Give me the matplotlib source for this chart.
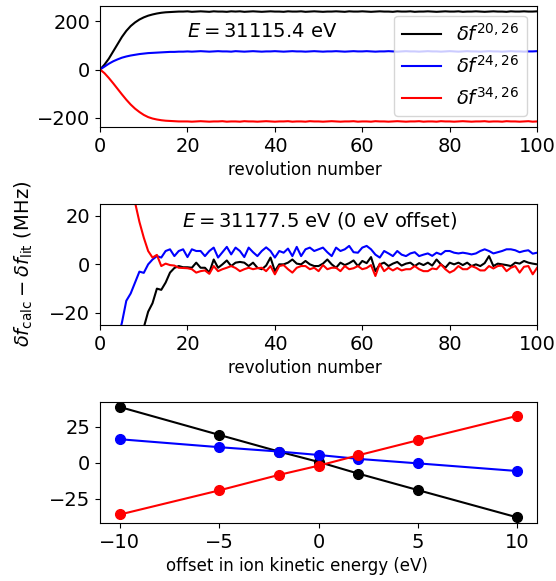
import numpy as np
import matplotlib
matplotlib.use("Agg")
import matplotlib.pyplot as plt

plt.rcParams['font.size'] = 14
plt.rcParams['axes.labelsize'] = 12

# ---------------- Panel 1 data (E = 31115.4 eV) ----------------
rev = list(range(0, 101))

black1 = [0, 20, 45, 75, 105, 135, 160, 180, 195, 207, 216, 223, 228, 232, 235, 237, 238, 239, 240, 240, 241,
          239, 240, 241, 240, 239, 241, 240, 240, 239, 241, 240, 241, 239, 240, 241, 240, 239, 240, 241, 240,
          240, 239, 241, 240, 240, 241, 239, 240, 241, 240, 239, 240, 240, 241, 240, 239, 241, 240, 240, 241,
          240, 239, 240, 241, 240, 240, 239, 241, 240, 240, 241, 239, 240, 240, 241, 240, 239, 240, 241, 240,
          240, 241, 239, 240, 240, 241, 240, 239, 240, 241, 240, 240, 239, 241, 240, 240, 241, 240, 240, 241]
blue1 = [0, 12, 24, 34, 42, 49, 54, 58, 61, 64, 66, 68, 69, 70, 71, 72, 73, 73, 74, 74, 75,
         74, 75, 76, 75, 74, 75, 76, 75, 75, 74, 76, 75, 74, 75, 76, 75, 74, 75, 75, 76,
         75, 74, 75, 76, 75, 75, 74, 75, 76, 75, 74, 75, 75, 76, 75, 74, 75, 76, 75, 75,
         76, 75, 74, 75, 75, 76, 75, 74, 75, 76, 75, 75, 74, 75, 76, 75, 75, 74, 75, 76,
         75, 74, 75, 76, 75, 75, 74, 75, 76, 75, 75, 74, 75, 76, 75, 75, 74, 75, 75, 76]
red1 = [0, -15, -35, -57, -80, -103, -125, -145, -162, -176, -188, -197, -203, -207, -210, -212, -213, -214, -215, -215, -215,
        -216, -215, -214, -215, -216, -215, -215, -214, -216, -215, -215, -216, -214, -215, -215, -216, -215, -214, -215, -216,
        -215, -215, -214, -216, -215, -215, -216, -214, -215, -215, -216, -215, -214, -215, -216, -215, -215, -214, -216, -215,
        -215, -216, -214, -215, -215, -216, -215, -214, -215, -216, -215, -215, -214, -216, -215, -215, -216, -214, -215, -215,
        -216, -215, -214, -215, -216, -215, -215, -214, -216, -215, -215, -216, -214, -215, -215, -216, -215, -214, -216, -215]

# ---------------- Panel 2 data (E = 31177.5 eV) ----------------
blue2 = [-75, -60, -48, -39, -31, -24, -15, -12, -7.5, -3, -3.5, 0, 2, 3.4, 2.8, 5.5, 6.2, 3.4, 5.5, 6.2,
         3, 6.2, 5.5, 5.5, 3.4, 5.5, 6.9, 2.8, 5, 7.2, 4.1, 6.9, 5.5, 3, 6.9, 5, 3.4, 5.5, 7, 5.5,
         2.8, 5.5, 4.8, 6.5, 3.4, 7.2, 3.4, 6.2, 6.9, 5.5, 6.2, 6.9, 5, 3.4, 6.9, 5.5, 6.2, 7.6, 5, 4.8,
         6.9, 7.6, 6.2, 4, 2.8, 5.5, 4.5, 3.4, 5.5, 4, 3.4, 4.5, 5, 3.4, 4, 4.5, 3.5, 4.8, 4.1, 5.5,
         5.5, 4.8, 4.5, 4.8, 4.5, 4.1, 4.5, 5.5, 6.2, 5.5, 4.5, 5, 5.5, 6.2, 6.2, 5.8, 5, 5.5, 5.8, 4.4, 4.8]
black2 = [-240, -200, -160, -125, -98, -78, -62, -50, -40, -32, -26, -19.5, -16, -10, -10.5, -7.5, -3.4, -1.5, -0.7, -1.2,
          -1.2, -1.4, 0.7, -1.4, -1.4, -3.4, 2, -1.4, 0, 1.6, -0.7, 0.7, 1, 0.7, -0.7, 0.7, -1.4, -2, -0.5, 2.8,
          -2.8, 0, 0, 0.7, 2, 0.3, 0, 1.4, 0, -0.7, -0.7, 0.3, 2, 0, -1.4, 0.7, -0.3, 0.5, 1.6, -0.7,
          1.4, 0.5, 3, -2.8, 0, 0.7, -0.7, 0.3, 1, -0.5, 0.3, 0.7, -0.7, 0.5, -0.3, 0.7, -0.5, 2, 0, -1.4,
          0.7, 0, 0.7, -0.3, 0.7, -0.7, 0, -0.7, 0.5, 3.4, -0.7, 0.3, 0, -0.3, -0.7, 0.7, 0.3, 1.4, 0.7, 0.3, 0]
red2 = [215, 190, 160, 128, 100, 76, 55, 38, 25.5, 17.5, 11, 5.5, 2.8, 3.9, -0.7, 0.3, -0.3, -0.5, -1.4, -1.5,
        -1.6, -2, -3.4, -2.8, -2.5, -3.9, -0.7, -2.8, -2, -1.4, -0.7, -1.5, -2.8, -2, -1.4, -2, -1.6, -1.4, -2.8, -0.7,
        -4.1, -0.7, -0.3, -2, -3.4, -1.4, -0.7, -0.7, -2, -1.4, -2.8, -0.3, -2, -1.4, -1.4, -2.8, -0.7, -2, -1.6, -0.7,
        -2, -1.5, -0.3, -4.8, 0.3, -2.8, -1.4, -2.5, -1.5, -2.5, -2, -2, -0.7, -2, -2.8, -2.8, -1.7, -2, 0, -2,
        -3.4, -2.5, -0.7, -2, -2, -0.7, -1.4, -2.5, -2.5, -0.7, -1.7, -0.7, -0.5, -2.8, -1.4, -0.7, -3.4, -1, -0.7, -4.1, -1.4]

# ---------------- Panel 3 data ----------------
offsets = [-10, -5, -2, 0, 2, 5, 10]
black3 = [38.5, 19.2, 7.7, 0.5, -7.6, -19.0, -37.9]
blue3 = [16.2, 10.7, 7.7, 5.3, 2.6, -0.5, -5.8]
red3 = [-35.9, -19.2, -8.5, -2.1, 5.1, 15.5, 32.4]

labels = [r'$\delta f^{20,26}$', r'$\delta f^{24,26}$', r'$\delta f^{34,26}$']
colors = ['k', 'b', 'r']

fig, axes = plt.subplots(3, 1, figsize=(5.56, 5.81), dpi=100)
fig.subplots_adjust(left=0.18, right=0.966, top=0.99, bottom=0.10, hspace=0.63)

ax1, ax2, ax3 = axes

for y, c, lab in zip([black1, blue1, red1], colors, labels):
    ax1.plot(rev, y, color=c, lw=1.5, label=lab)
ax1.set_xlim(0, 100)
ax1.set_yticks([-200, 0, 200])
ax1.set_xlabel('revolution number', x=0.469)
ax1.text(0.37, 0.79, r'$E = 31115.4$ eV', transform=ax1.transAxes, ha='center', va='center')
ax1.legend(loc='upper right', fontsize=14)

for y, c in zip([black2, blue2, red2], colors):
    ax2.plot(rev, y, color=c, lw=1.5)
ax2.set_xlim(0, 100)
ax2.set_ylim(-25, 25)
ax2.set_yticks([-20, 0, 20])
ax2.set_xlabel('revolution number', x=0.469)
ax2.set_ylabel(r'$\delta f_{\rm calc} - \delta f_{\rm lit}$ (MHz)', fontsize=14)
ax2.yaxis.set_label_coords(-0.149, 0.5)
ax2.text(0.503, 0.858, r'$E = 31177.5$ eV (0 eV offset)', transform=ax2.transAxes, ha='center', va='center')

for y, c in zip([black3, blue3, red3], colors):
    ax3.plot(offsets, y, color=c, lw=1.5, marker='o', ms=7)
ax3.set_xticks([-10, -5, 0, 5, 10])
ax3.set_yticks([-25, 0, 25])
ax3.set_xlabel('offset in ion kinetic energy (eV)', x=0.451)

fig.savefig('out.png', dpi=100)
